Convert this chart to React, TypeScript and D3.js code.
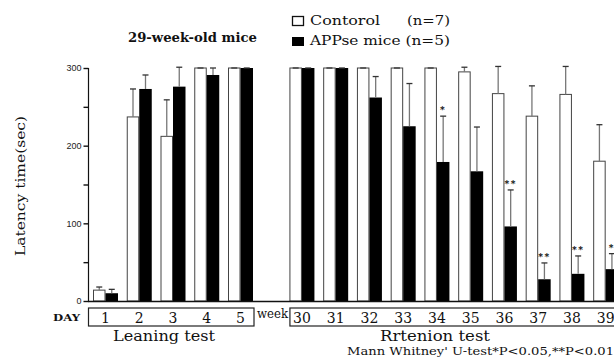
import React, { useEffect, useRef } from "react";
import * as d3 from "d3";

const days = ["1", "2", "3", "4", "5"];
const weeks = ["30", "31", "32", "33", "34", "35", "36", "37", "38", "39"];
const controlMean = [14, 237, 212, 300, 300, 300, 300, 300, 300, 300, 295, 267, 238, 266, 180];
const controlErr = [4, 36, 47, 0, 0, 0, 0, 0, 0, 0, 6, 35, 39, 36, 47];
const appMean = [10, 273, 276, 291, 300, 300, 300, 262, 225, 179, 167, 96, 28, 35, 41];
const appErr = [5, 18, 25, 9, 0, 0, 0, 27, 55, 59, 57, 47, 21, 23, 20];
const signif = ["", "", "", "", "", "", "", "", "", "*", "", "**", "**", "**", "*"];
const yTicks = [0, 50, 100, 150, 200, 250, 300];

const W = 614;
const H = 357;
const serif = "DejaVu Serif, Liberation Serif, serif";
const sans = "Liberation Sans, Arial, sans-serif";

export default function App() {
  const ref = useRef<SVGSVGElement>(null);

  useEffect(() => {
    const svg = d3.select(ref.current);
    svg.selectAll("*").remove();

    const weekStart = 5.82; // gap between the two tests, in slots
    const labels = [...days, ...weeks];
    const slot = (i: number) => (i < days.length ? i : weekStart + i - days.length);

    const x = d3.scaleLinear().domain([0, 1]).range([93, 126.75]);
    const y = d3.scaleLinear().domain([0, 300]).range([301, 68]);
    const bw = 12.5;

    const rows = labels.map((l, i) => ({
      label: l,
      x0: x(slot(i)),
      c: controlMean[i],
      ce: controlErr[i],
      a: appMean[i],
      ae: appErr[i],
      s: signif[i],
    }));

    // error bars
    const err = (sel, cx: (d) => number, top: (d) => number, base: (d) => number) => {
      sel.append("line")
        .attr("x1", cx).attr("x2", cx)
        .attr("y1", base).attr("y2", top)
        .attr("stroke", "#777").attr("stroke-width", 1.3);
      sel.append("line")
        .attr("x1", (d) => cx(d) - 3).attr("x2", (d) => cx(d) + 3)
        .attr("y1", top).attr("y2", top)
        .attr("stroke", "#333").attr("stroke-width", 1.3);
    };

    const g = svg.append("g");
    const grp = g.selectAll("g.grp").data(rows).enter().append("g");

    grp.append("rect")
      .attr("x", (d) => d.x0 + 0.5)
      .attr("y", (d) => y(d.c))
      .attr("width", bw - 1)
      .attr("height", (d) => y(0) - y(d.c))
      .attr("fill", "white")
      .attr("stroke", "#444")
      .attr("stroke-width", 1);

    grp.append("rect")
      .attr("x", (d) => d.x0 + bw)
      .attr("y", (d) => y(d.a))
      .attr("width", bw)
      .attr("height", (d) => y(0) - y(d.a))
      .attr("fill", "black");

    const ce = grp.append("g");
    err(ce, (d) => d.x0 + bw / 2, (d) => y(d.c + d.ce), (d) => y(d.c));
    const ae = grp.append("g");
    err(ae, (d) => d.x0 + bw * 1.5, (d) => y(d.a + d.ae), (d) => y(d.a));

    grp.append("text")
      .attr("x", (d) => d.x0 + bw * 1.5)
      .attr("y", (d) => y(d.a + d.ae) - 3)
      .attr("text-anchor", "middle")
      .attr("font-family", serif)
      .attr("font-size", 9)
      .attr("font-weight", "bold")
      .style("letter-spacing", "1.5px")
      .text((d) => d.s);

    // y axis
    const yAxis = d3.axisLeft(y)
      .tickValues(yTicks)
      .tickSize(5)
      .tickFormat((d) => (+d % 100 === 0 ? String(d) : ""));
    const ya = svg.append("g").attr("transform", "translate(88.5,0)").call(yAxis);
    ya.attr("font-family", sans).attr("font-size", 9);
    ya.select(".domain").attr("stroke", "#111").attr("stroke-width", 1.2).attr("d", `M0,${y(300)}V${y(0)}`);
    ya.selectAll(".tick line").attr("stroke", "#111").attr("stroke-width", 1.4);
    ya.selectAll(".tick text").attr("fill", "#222").attr("x", -7);

    // baseline
    svg.append("line")
      .attr("x1", 88).attr("x2", W)
      .attr("y1", y(0) + 0.5).attr("y2", y(0) + 0.5)
      .attr("stroke", "#111").attr("stroke-width", 1.5);

    // category boxes
    const boxY = 308;
    const boxH = 18;
    svg.append("rect")
      .attr("x", 88.5).attr("y", boxY)
      .attr("width", x(days.length - 1) + 2 * bw - 88 + 0.5).attr("height", boxH)
      .attr("fill", "none").attr("stroke", "#222").attr("stroke-width", 1.2);
    svg.append("rect")
      .attr("x", x(weekStart) + 0.5).attr("y", boxY)
      .attr("width", W + 10 - x(weekStart)).attr("height", boxH)
      .attr("fill", "none").attr("stroke", "#222").attr("stroke-width", 1.2);

    svg.selectAll("text.cat").data(rows).enter().append("text")
      .attr("x", (d) => d.x0 + bw)
      .attr("y", 323)
      .attr("text-anchor", "middle")
      .attr("font-family", serif)
      .attr("font-size", 14)
      .attr("fill", "#111")
      .text((d) => d.label);

    const txt = (t: string, xx: number, yy: number, size: number, opts: any = {}) => {
      const e = svg.append("text")
        .attr("x", xx).attr("y", yy)
        .attr("text-anchor", opts.anchor || "start")
        .attr("font-family", opts.font || serif)
        .attr("font-size", size)
        .attr("font-weight", opts.bold ? "bold" : "normal")
        .attr("fill", "#111")
        .text(t);
      if (opts.len) e.attr("textLength", opts.len).attr("lengthAdjust", "spacingAndGlyphs");
      if (opts.transform) e.attr("transform", opts.transform);
      return e;
    };

    txt("DAY", 53, 321, 10, { bold: true, len: 27 });
    txt("week", 257, 318, 12, { len: 31 });
    txt("Leaning test", 113, 341, 15, { len: 102 });
    txt("Rrtenion test", 380, 341, 15, { len: 110 });
    txt("Mann Whitney' U-test*P<0.05,**P<0.01", 347, 355, 11.5, { len: 267 });

    // title & legend
    txt("29-week-old mice", 128, 42, 12.5, { bold: true, len: 129 });
    svg.append("rect").attr("x", 292.5).attr("y", 16.5).attr("width", 11).attr("height", 9)
      .attr("fill", "white").attr("stroke", "#111").attr("stroke-width", 1.3);
    svg.append("rect").attr("x", 292).attr("y", 37).attr("width", 12).attr("height", 9).attr("fill", "black");
    txt("Contorol", 310, 25, 13.5, { len: 70 });
    txt("(n=7)", 407, 25, 13, { len: 43 });
    txt("APPse mice (n=5)", 310, 45, 13.5, { len: 140 });

    // y label
    txt("Latency time(sec)", 0, 0, 12, { anchor: "middle", transform: "translate(25,186) rotate(-90)", len: 140 });
  }, []);

  return (
    <div style={{ position: "absolute", left: 0, top: 0 }}>
      <svg ref={ref} width={W} height={H} style={{ display: "block", background: "white" }} />
    </div>
  );
}
